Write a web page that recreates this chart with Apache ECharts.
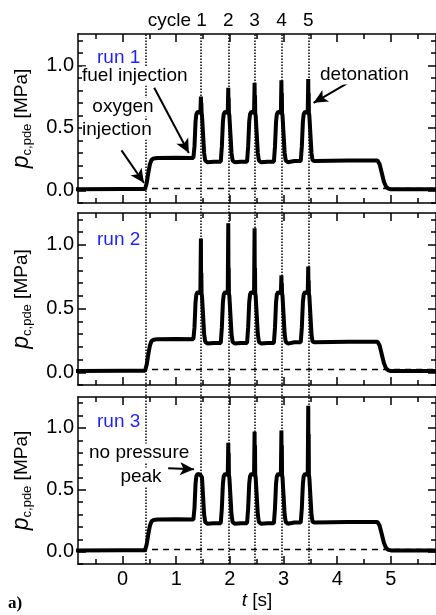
<!DOCTYPE html>
<html>
<head>
<meta charset="utf-8">
<script src="https://cdn.jsdelivr.net/npm/echarts@6/dist/echarts.min.js"></script>
<style>html,body{margin:0;padding:0;background:#fff}#chart{width:436px;height:615px}</style>
</head>
<body>
<div id="chart"></div>
<script>
// time axis shared by the three runs [s]
var tData = [
    -0.9, 0.0, 0.42, 0.45, 0.48, 0.51, 0.54, 0.58, 0.65, 1.0,
    1.32, 1.34, 1.36, 1.375, 1.40, 1.45, 1.46, 1.464, 1.468, 1.472, 1.48, 1.50, 1.52, 1.54, 1.58,
    1.70,
    1.83, 1.85, 1.87, 1.885, 1.91, 1.96, 1.97, 1.974, 1.978, 1.982, 1.99, 2.01, 2.03, 2.05, 2.09,
    2.20,
    2.32, 2.34, 2.36, 2.375, 2.40, 2.45, 2.46, 2.464, 2.468, 2.472, 2.48, 2.50, 2.52, 2.54, 2.58,
    2.70,
    2.82, 2.84, 2.86, 2.875, 2.90, 2.95, 2.96, 2.964, 2.968, 2.972, 2.98, 3.00, 3.02, 3.04, 3.08,
    3.20,
    3.32, 3.34, 3.36, 3.375, 3.40, 3.45, 3.46, 3.464, 3.468, 3.472, 3.48, 3.50, 3.52, 3.54, 3.58,
    4.2, 4.75, 4.79, 4.83, 4.87, 4.91, 4.95, 5.0, 5.9
];
// chamber pressure without the detonation spikes [MPa]
var baseShape = [
    0.01, 0.012, 0.012, 0.06, 0.14, 0.21, 0.245, 0.255, 0.26, 0.262,
    0.26, 0.35, 0.55, 0.61, 0.63, 0.62, 0.62, 0.62, 0.62, 0.62, 0.60, 0.45, 0.30, 0.24, 0.225,
    0.23,
    0.23, 0.35, 0.55, 0.61, 0.63, 0.62, 0.62, 0.62, 0.62, 0.62, 0.60, 0.45, 0.30, 0.24, 0.225,
    0.23,
    0.23, 0.35, 0.55, 0.61, 0.63, 0.62, 0.62, 0.62, 0.62, 0.62, 0.60, 0.45, 0.30, 0.24, 0.225,
    0.23,
    0.23, 0.35, 0.55, 0.61, 0.63, 0.62, 0.62, 0.62, 0.62, 0.62, 0.60, 0.45, 0.30, 0.24, 0.225,
    0.235,
    0.235, 0.35, 0.55, 0.61, 0.63, 0.62, 0.62, 0.62, 0.62, 0.62, 0.60, 0.45, 0.30, 0.24, 0.235,
    0.24, 0.24, 0.21, 0.14, 0.07, 0.03, 0.015, 0.01, 0.01
];
var spikeTimes = [1.46, 1.97, 2.46, 2.96, 3.46];
var run1Peaks = [0.75, 0.82, 0.86, 0.88, 0.89];
var run1Rings = [0.70, 0.74, 0.76, 0.78, 0.78];
var run2Peaks = [1.05, 1.17, 1.13, 0.76, 0.83];
var run2Rings = [0.78, 0.82, 0.82, 0.70, 0.72];
var run3Peaks = [0.62, 0.88, 0.97, 0.98, 1.18];
var run3Rings = [0.62, 0.80, 0.86, 0.86, 0.95];

var cycleLines = [0.43, 1.46, 1.97, 2.46, 2.96, 3.46];
var cycleNames = ['', 'cycle 1', '2', '3', '4', '5'];
var initLevel = 0.02;
var xTicks = [0, 1, 2, 3, 4, 5];
var xMinorTicks = [-0.5, 0.5, 1.5, 2.5, 3.5, 4.5, 5.5];
var yTicks = [0, 0.5, 1.0];
var yMinorTicks = [-0.1, 0.1, 0.2, 0.3, 0.4, 0.6, 0.7, 0.8, 0.9, 1.1, 1.2];

var tMin = -0.83, tMax = 5.84, pMin = -0.1, pMax = 1.25;
var fontFam = '"Liberation Sans", Arial, sans-serif';
var panelBox = [{top: 34, height: 169}, {top: 213, height: 172}, {top: 397, height: 167}];

function buildRun(peaks, rings) {
    var v = baseShape.slice();
    spikeTimes.forEach(function (s, k) {
        var i = tData.indexOf(s);
        v[i] = peaks[k];
        v[i + 2] = rings[k];
    });
    return tData.map(function (t, i) { return [t, v[i]]; });
}
var runs = [buildRun(run1Peaks, run1Rings), buildRun(run2Peaks, run2Rings), buildRun(run3Peaks, run3Rings)];

function axisBase(kind, p, pos, ticks, len, showLine) {
    return {
        type: 'value', gridIndex: p, position: pos,
        min: kind === 'x' ? tMin : pMin,
        max: kind === 'x' ? tMax : pMax,
        axisLine: {show: showLine, onZero: false, lineStyle: {color: '#000', width: 1.5}},
        axisTick: {show: true, inside: true, length: len, customValues: ticks, lineStyle: {color: '#000', width: 1.5}},
        axisLabel: {show: false},
        splitLine: {show: false}
    };
}

var grids = [], xAxes = [], yAxes = [], series = [];
panelBox.forEach(function (b, p) {
    grids.push({left: 78, right: -2, top: b.top, height: b.height});
    var xb = axisBase('x', p, 'bottom', xTicks, 8, true);
    if (p === 2) {
        xb.axisLabel = {show: true, customValues: xTicks, fontSize: 20, color: '#000', fontFamily: fontFam, margin: 5};
        xb.name = '{i|t} [s]';
        xb.nameLocation = 'middle';
        xb.nameGap = 27;
        xb.nameTextStyle = {fontSize: 19, color: '#000', fontFamily: fontFam, rich: {i: {fontSize: 19, fontStyle: 'italic', fontFamily: fontFam}}};
    }
    xAxes.push(xb, axisBase('x', p, 'bottom', xMinorTicks, 5, false),
        axisBase('x', p, 'top', xTicks, 8, true), axisBase('x', p, 'top', xMinorTicks, 5, false));

    var yl = axisBase('y', p, 'left', yTicks, 8, true);
    yl.axisLabel = {show: true, customValues: yTicks, fontSize: 20, color: '#000', fontFamily: fontFam, margin: 4,
        formatter: function (v) { return v.toFixed(1); }};
    yl.name = '{i|p}{s|c,pde} [MPa]';
    yl.nameLocation = 'middle';
    yl.nameRotate = 90;
    yl.nameGap = 44;
    yl.nameTextStyle = {fontSize: 19, color: '#000', fontFamily: fontFam, lineHeight: 24,
        rich: {i: {fontSize: 23, fontStyle: 'italic', fontFamily: fontFam, lineHeight: 24},
               s: {fontSize: 13, fontFamily: fontFam, lineHeight: 12, verticalAlign: 'bottom'}}};
    yAxes.push(yl, axisBase('y', p, 'left', yMinorTicks, 5, false),
        axisBase('y', p, 'right', yTicks, 8, true), axisBase('y', p, 'right', yMinorTicks, 5, false));

    series.push({
        type: 'line', xAxisIndex: 4 * p, yAxisIndex: 4 * p,
        data: runs[p], showSymbol: false, symbol: 'none',
        lineStyle: {color: '#000', width: 4}, animation: false, z: 3,
        markLine: {
            silent: true, symbol: ['none', 'none'], animation: false,
            label: {show: false},
            lineStyle: {color: '#000', type: [6, 5], width: 1.4},
            data: [[{coord: [0.55, initLevel]}, {coord: [tMax, initLevel]}]]
        }
    });
});

// overlay grid that spans all panels for the dotted cycle markers
grids.push({left: 78, right: -2, top: 34, bottom: 615 - 564});
xAxes.push({type: 'value', gridIndex: 3, min: tMin, max: tMax, show: false});
yAxes.push({type: 'value', gridIndex: 3, min: 0, max: 1, show: false});
series.push({
    type: 'line', xAxisIndex: 12, yAxisIndex: 12, data: [], animation: false, z: 1,
    markLine: {
        silent: true, symbol: ['none', 'none'], animation: false,
        lineStyle: {color: '#000', type: 'dotted', width: 1.5},
        label: {show: true, position: 'end', distance: 4, formatter: '{b}', fontSize: 19, color: '#000', fontFamily: fontFam},
        data: cycleLines.map(function (x, i) {
            var item = {xAxis: x, name: cycleNames[i]};
            if (i === 1) item.label = {align: 'right', offset: [6, 0]};
            return item;
        })
    }
});

// annotation arrows in data units
var arrowStyle = {color: '#000', type: 'solid', width: 2};
function arrow(a, b) {
    return [{coord: a, lineStyle: arrowStyle}, {coord: b, symbol: 'arrow', symbolSize: [10, 14]}];
}
series[0].markLine.data.push(arrow([0.59, 0.82], [1.235, 0.30]), arrow([-0.02, 0.32], [0.40, 0.06]), arrow([4.2, 0.86], [3.56, 0.70]));
series[2].markLine.data.push(arrow([0.85, 0.675], [1.33, 0.665]));

function txt(x, y, s, opt) {
    var st = {text: s, x: x, y: y, fill: '#000', font: '19px ' + fontFam, textAlign: 'left', textVerticalAlign: 'middle'};
    for (var k in opt) st[k] = opt[k];
    return {type: 'text', z: 50, style: st};
}
var runColor = '#1f1fff';
var graphics = [
    txt(97, 58, 'run 1', {fill: runColor}),
    txt(97, 240, 'run 2', {fill: runColor}),
    txt(97, 422, 'run 3', {fill: runColor}),
    txt(82, 76, 'fuel injection', {backgroundColor: '#fff'}),
    txt(123, 107, 'oxygen', {textAlign: 'center', backgroundColor: '#fff'}),
    txt(82, 130, 'injection', {backgroundColor: '#fff'}),
    txt(320, 75, 'detonation', {backgroundColor: '#fff'}),
    txt(89, 453, 'no pressure', {backgroundColor: '#fff'}),
    txt(141, 477, 'peak', {textAlign: 'center', backgroundColor: '#fff'}),
    txt(8, 604, 'a)', {font: 'bold 17px "Liberation Serif", serif'})
];

var chart = echarts.init(document.getElementById('chart'));
chart.setOption({
    backgroundColor: '#fff',
    animation: false,
    grid: grids,
    xAxis: xAxes,
    yAxis: yAxes,
    series: series,
    graphic: graphics
});
</script>
</body>
</html>
